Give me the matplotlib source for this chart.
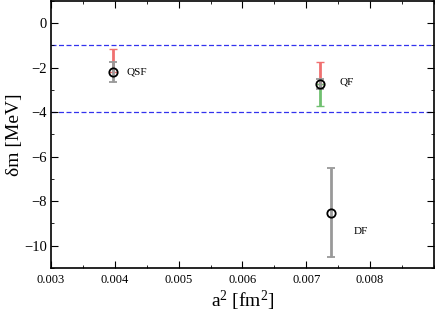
import numpy as np
import matplotlib.pyplot as plt
from matplotlib.ticker import MultipleLocator

plt.rcParams['font.family'] = ['Liberation Serif', 'DejaVu Serif']
plt.rcParams['mathtext.fontset'] = 'stix'
plt.rcParams['mathtext.default'] = 'regular'

# lattice spacing squared, mass shift, errors
labels = ['QSF', 'QF', 'DF']
a2 = [0.00397, 0.00722, 0.00739]
dm = [-2.2, -2.74, -8.52]
err_stat = [0.46, 0.23, 2.0]
# red: upward, green: downward systematic parts
err_up = [1.02, 0.99, 0.0]
err_down = [0.0, 0.98, 0.0]
label_x = [0.00418, 0.00752, 0.00775]
label_y = [-2.2, -2.65, -9.35]
band = [-1.0, -4.0]

fig = plt.figure(figsize=(4.36, 3.12), dpi=100)
ax = fig.add_axes([0.117, 0.141, 0.878, 0.856])

for i in range(len(a2)):
    if err_up[i] > 0:
        ax.errorbar(a2[i], dm[i], yerr=[[0], [err_up[i]]], fmt='none',
                    ecolor='#f07070', elinewidth=2, capsize=3, capthick=1, zorder=2)
    if err_down[i] > 0:
        ax.errorbar(a2[i], dm[i], yerr=[[err_down[i]], [0]], fmt='none',
                    ecolor='#70c070', elinewidth=2, capsize=3, capthick=1, zorder=2)
    eb = ax.errorbar(a2[i], dm[i], yerr=err_stat[i], fmt='o', mfc='none', mec='black',
                     ms=6, mew=1.3, ecolor='#999999', elinewidth=2,
                     capsize=3, capthick=1, zorder=3)
    for cap in eb[1]:
        cap.set_color('black')
    ax.text(label_x[i], label_y[i], labels[i], fontsize=8, va='center', ha='left')

for y in band:
    ax.axhline(y, color='#3333ee', lw=0.9, ls=(0, (4, 2)), zorder=1)

ax.set_xlim(0.003, 0.009)
ax.set_ylim(-11, 1)
ax.xaxis.set_minor_locator(MultipleLocator(0.0005))
ax.yaxis.set_major_locator(MultipleLocator(2))
ax.yaxis.set_minor_locator(MultipleLocator(1))
ax.set_xticks([0.003, 0.004, 0.005, 0.006, 0.007, 0.008])
ax.set_xticklabels(['0.003', '0.004', '0.005', '0.006', '0.007', '0.008'])
ax.tick_params(which='both', direction='in', top=True, right=True)
ax.tick_params(which='major', length=5)
ax.tick_params(which='minor', length=2.5)
ax.tick_params(axis='y', labelsize=10.5, pad=3)
ax.tick_params(axis='x', labelsize=9, pad=4)
ax.set_xlabel(r'a$^2$ [fm$^2$]', fontsize=14, labelpad=2)
ax.set_ylabel('δm [MeV]', fontsize=14)
ax.yaxis.set_label_coords(-0.072, 0.5)
for s in ax.spines.values():
    s.set_linewidth(1.2)

fig.savefig('out.png', dpi=100)
